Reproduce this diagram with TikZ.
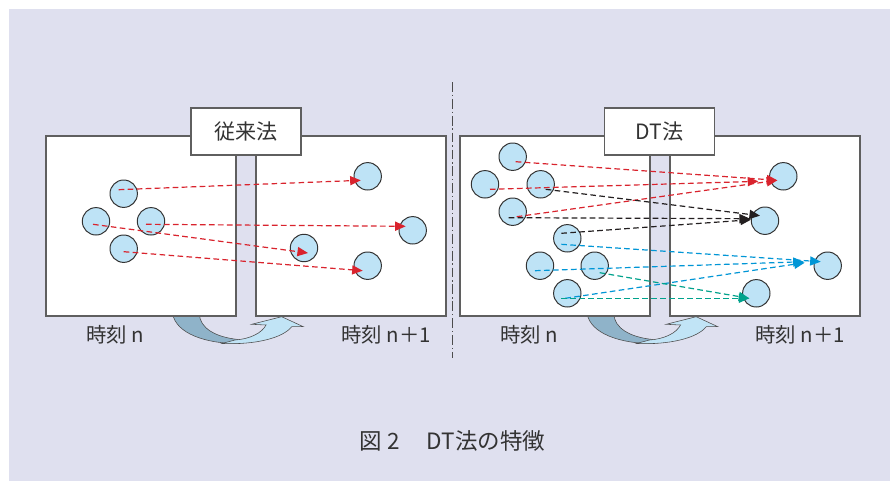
\documentclass[tikz,border=0pt]{standalone}
\usepackage{fontspec}
\setmainfont{Noto Sans CJK JP}
\usetikzlibrary{arrows.meta, calc}

\definecolor{bglav}{RGB}{223,224,239}
\definecolor{framegray}{RGB}{95,95,95}
\definecolor{ballblue}{RGB}{190,227,246}
\definecolor{banddark}{RGB}{143,179,201}
\definecolor{bandlight}{RGB}{193,228,246}
\definecolor{txtgray}{RGB}{51,51,51}
\definecolor{dtred}{RGB}{217,35,45}
\definecolor{dtblack}{RGB}{35,31,32}
\definecolor{dtblue}{RGB}{0,150,214}
\definecolor{dtgreen}{RGB}{0,162,140}

\begin{document}
\begin{tikzpicture}[x=0.025cm, y=-0.025cm,
  frame/.style={draw=framegray, line width=0.8pt, fill=white},
  ball/.style={circle, draw=black!80, line width=0.7pt, fill=ballblue,
    minimum size=0.685cm, inner sep=0pt},
  move/.style={dash pattern=on 4pt off 2.4pt, line width=0.85pt,
    -{Triangle[length=7.5pt, width=6.5pt]}},
  tag/.style={draw=framegray, line width=0.8pt, fill=white,
    minimum width=2.75cm, minimum height=1.175cm,
    font=\fontsize{15}{18}\selectfont, text=txtgray},
  lab/.style={text=txtgray, font=\fontsize{14.5}{17}\selectfont, inner sep=0pt}]

\useasboundingbox (0,0) rectangle (890,481);

% --- Background ---
\fill[bglav] (9,9) rectangle (890,481);

% --- Divider ---
\draw[framegray!80!black, line width=0.8pt, dash pattern=on 7pt off 2pt on 1pt off 2pt]
  (452.3,82) -- (452.3,358);

% --- Twisted arrows n -> n+1 (under the frames) ---
\foreach \dx in {0, 414.5} {
  \begin{scope}[shift={(\dx,0)}]
    \filldraw[fill=banddark, draw=black!70, line width=0.4pt]
      (172.7,314) .. controls (176,333) and (205,344) .. (240,343.5)
      -- (238,339.5) .. controls (215,337) and (200,328) .. (199.3,314) -- cycle;
    \filldraw[fill=bandlight, draw=black!70, line width=0.4pt]
      (222,343.5) .. controls (255,345) and (283,338) .. (291.7,326.7)
      -- (303.3,326.7) -- (281.7,316.7) -- (251.7,324.3) -- (266,325)
      .. controls (262,333) and (250,339) .. (235,340) -- cycle;
  \end{scope}
}

% --- Frames for time n and n+1 ---
\foreach \dx in {0, 414} {
  \draw[frame] (46+\dx,136) rectangle (236+\dx,316);
  \draw[frame] (256+\dx,136) rectangle (446+\dx,316);
}

% --- Method tags ---
\node[tag] (conv) at (246,131.5) {従来法};
\node[tag] (dtm) at (659.5,131.5) {DT法};

% --- Time labels ---
\node[lab, anchor=west] (tn1) at (86,335) {時刻 n};
\node[lab, anchor=east] (tm1) at (431,335) {時刻 n＋1};
\node[lab, anchor=west] (tn2) at (500,335) {時刻 n};
\node[lab, anchor=east] (tm2) at (845,335) {時刻 n＋1};

% --- Conventional method: particles ---
\node[ball] (a1) at (123.7,193.7) {};
\node[ball] (a2) at (96,221.3) {};
\node[ball] (a3) at (151,221.3) {};
\node[ball] (a4) at (123.7,248.7) {};
\node[ball] (b1) at (367.7,176.3) {};
\node[ball] (b2) at (412.7,230.3) {};
\node[ball] (b3) at (304,248) {};
\node[ball] (b4) at (367.7,265.7) {};

\draw[move, dtred] ($(a1)+(-5,-4)$) -- ($(b1)+(-7,4)$);
\draw[move, dtred] ($(a3)+(-5,3)$) -- ($(b2)+(-7,-4)$);
\draw[move, dtred] ($(a2)+(-3,3)$) -- ($(b3)+(4,5)$);
\draw[move, dtred] ($(a4)+(0,3)$) -- ($(b4)+(-5,5)$);

% --- DT method: particles ---
\node[ball] (c1) at (512.7,156.7) {};
\node[ball] (c2) at (485,184.3) {};
\node[ball] (c3) at (540.7,184.3) {};
\node[ball] (c4) at (512.7,211.7) {};
\node[ball] (c5) at (567.3,238.3) {};
\node[ball] (c6) at (540,265.7) {};
\node[ball] (c7) at (594.7,265.7) {};
\node[ball] (c8) at (567.3,293.3) {};
\node[ball] (d1) at (783.3,176.3) {};
\node[ball] (d2) at (765,220.7) {};
\node[ball] (d3) at (827.7,265.7) {};
\node[ball] (d4) at (756.3,293.3) {};

% red group
\draw[move, dtred] ($(c1)+(3,5)$) -- ($(d1)+(-6,4)$);
\draw[move, dtred] ($(c2)+(5,5)$) -- ($(d1)+(-25,5)$);
\draw[move, dtred] ($(c4)+(4,5)$) -- ($(d1)+(-6,4)$);
% black group
\draw[move, dtblack] ($(c3)+(5,5)$) -- ($(d2)+(-5,-5)$);
\draw[move, dtblack] ($(c4)+(-4,6)$) -- ($(d2)+(-15,-2)$);
\draw[move, dtblack] ($(c5)+(-6,-5)$) -- ($(d2)+(-14,-1)$);
% blue group
\draw[move, dtblue] ($(c5)+(-6,6)$) -- ($(d3)+(-7,-4)$);
\draw[move, dtblue] ($(c6)+(-5,5)$) -- ($(d3)+(-24,-4)$);
\draw[move, dtblue] ($(c8)+(-2,5)$) -- ($(d3)+(-23,-3)$);
% green group
\draw[move, dtgreen] ($(c7)+(5,7)$) -- ($(d4)+(-7,5)$);
\draw[move, dtgreen] ($(c8)+(-6,5)$) -- ($(d4)+(-7,5)$);

% --- Caption ---
\node[text=txtgray, font=\fontsize{16}{19}\selectfont] (cap) at (452.5,440.7)
  {図 2\hspace{1.2em}DT法の特徴};

\end{tikzpicture}
\end{document}
